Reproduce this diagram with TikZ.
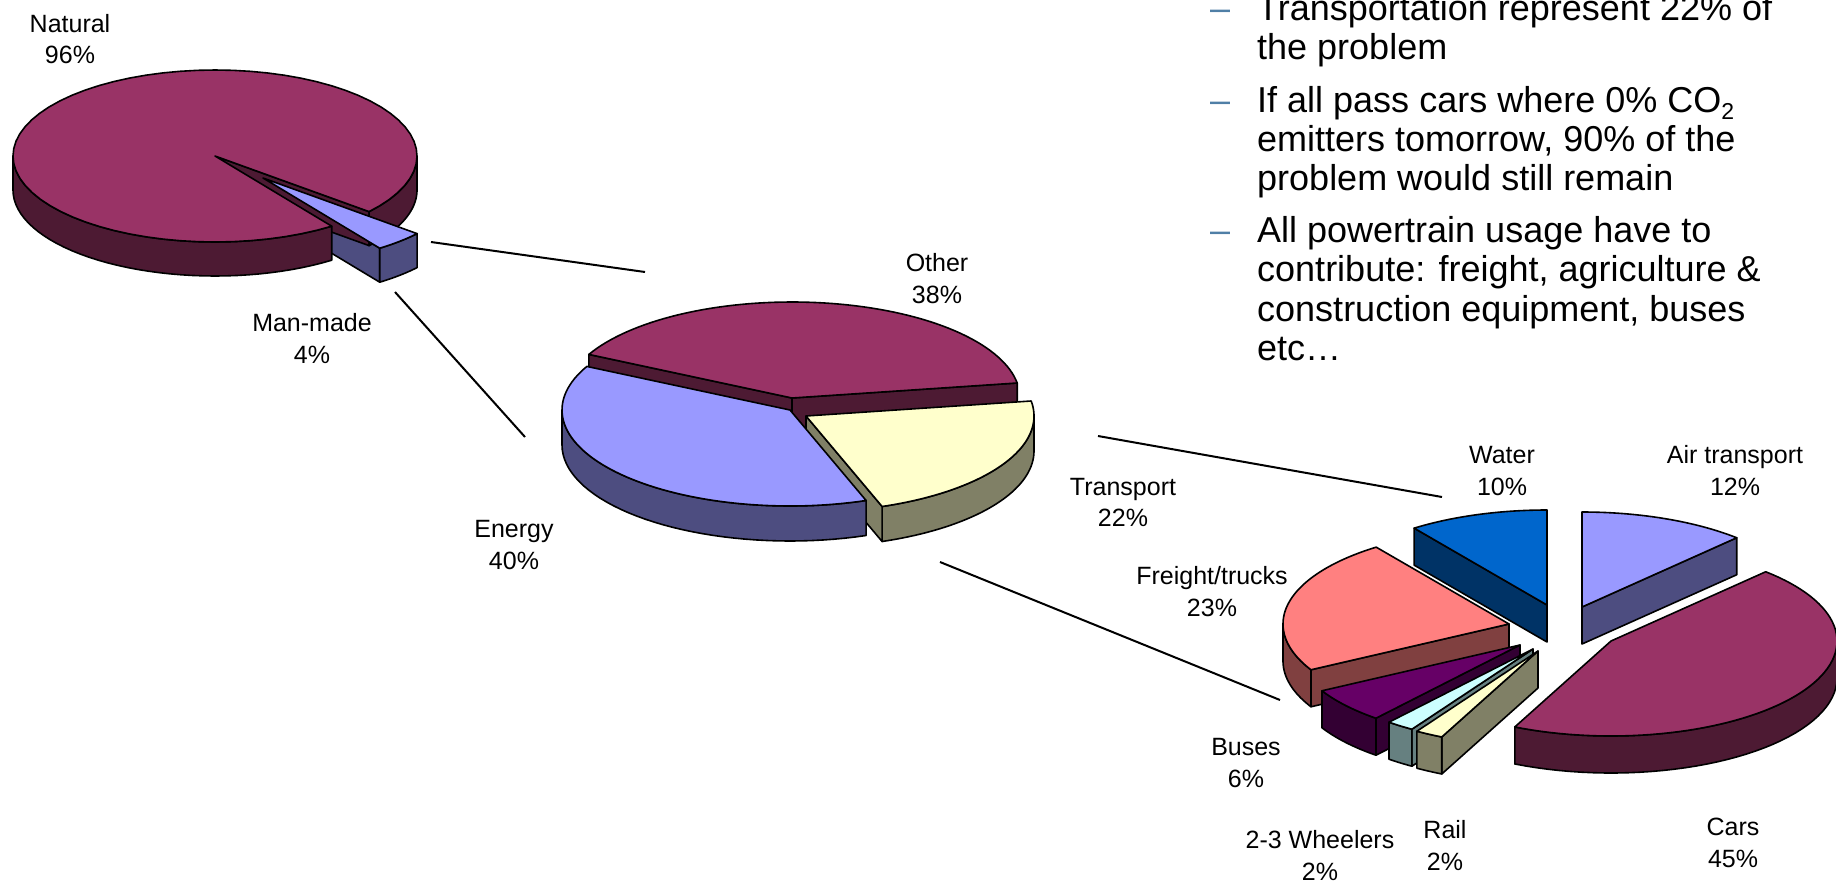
\documentclass[tikz,border=0pt]{standalone}
\usepackage{fontspec}
\setmainfont{Liberation Sans}
\definecolor{maroonT}{HTML}{993366}
\definecolor{maroonS}{HTML}{4D1A33}
\definecolor{lavT}{HTML}{9999FF}
\definecolor{lavS}{HTML}{4D4D80}
\definecolor{creamT}{HTML}{FFFFCC}
\definecolor{creamS}{HTML}{808066}
\definecolor{blueT}{HTML}{0066CC}
\definecolor{blueS}{HTML}{003366}
\definecolor{salmonT}{HTML}{FF8080}
\definecolor{salmonS}{HTML}{804040}
\definecolor{plumT}{HTML}{660066}
\definecolor{plumS}{HTML}{330033}
\definecolor{cyanT}{HTML}{CCFFFF}
\definecolor{cyanS}{HTML}{668080}
\definecolor{dashblue}{HTML}{4F7FA6}
% pie geometry: centre x, centre y, x radius, y radius, thickness
\newcommand\PieSet[5]{\def\pcx{#1}\def\pcy{#2}\def\prx{#3}\def\pry{#4}\def\ph{#5}}
% top face: from angle, to angle, offset x, offset y, colour
\newcommand\PTop[5]{%
  \filldraw[pieline,fill=#5] ({\pcx+(#3)},{\pcy+(#4)}) --
    plot[domain=#1:#2,samples=70] ({\pcx+(#3)+\prx*cos(\x)},{\pcy+(#4)+\pry*sin(\x)}) -- cycle;}
% outer rim side: visible from angle, to angle, offset x, offset y, colour
\newcommand\PRim[5]{%
  \filldraw[pieline,fill=#5]
    plot[domain=#1:#2,samples=40] ({\pcx+(#3)+\prx*cos(\x)},{\pcy+(#4)+\pry*sin(\x)}) --
    plot[domain=#2:#1,samples=40] ({\pcx+(#3)+\prx*cos(\x)},{\pcy+(#4)+\ph+\pry*sin(\x)}) -- cycle;}
% radial side: angle, offset x, offset y, colour
\newcommand\PRad[4]{%
  \filldraw[pieline,fill=#4] ({\pcx+(#2)},{\pcy+(#3)}) --
    ({\pcx+(#2)+\prx*cos(#1)},{\pcy+(#3)+\pry*sin(#1)}) --
    ({\pcx+(#2)+\prx*cos(#1)},{\pcy+(#3)+\ph+\pry*sin(#1)}) --
    ({\pcx+(#2)},{\pcy+(#3)+\ph}) -- cycle;}
\begin{document}
\begin{tikzpicture}[x=1pt,y=-1pt,
  pieline/.style={draw=black,line width=1.6pt,line join=round},
  leader/.style={draw=black,line width=2pt},
  lbl/.style={anchor=base,inner sep=0pt,font=\fontsize{25}{30}\selectfont},
  bul/.style={anchor=base west,inner sep=0pt,font=\fontsize{36}{40}\selectfont},
  dashmark/.style={anchor=base west,inner sep=0pt,font=\fontsize{36}{40}\selectfont,text=dashblue}]
\useasboundingbox (0,0) rectangle (1836,881);
\fill[white] (0,0) rectangle (1836,881);
\clip (0,0) rectangle (1836,881);

% ---------- pie 1 : Natural / Man-made ----------
\PieSet{215}{156}{202}{86}{34}
\PRad{54.7}{48}{22}{lavS}
\PRim{40.3}{54.7}{48}{22}{lavS}
\PRad{40.3}{0}{0}{maroonS}
\PRim{0}{40.3}{0}{0}{maroonS}
\PRim{54.7}{180}{0}{0}{maroonS}
\PTop{54.7}{400.3}{0}{0}{maroonT}
\PTop{40.3}{54.7}{48}{22}{lavT}

% ---------- pie 2 : Other / Transport / Energy ----------
\PieSet{792}{398}{228}{96}{35}
\PRad{207}{0}{0}{maroonS}
\PRad{351}{0}{0}{maroonS}
\PRim{0}{70.5}{14}{18}{creamS}
\PRad{70.5}{14}{18}{creamS}
\PRim{70.5}{180}{-2}{12}{lavS}
\PTop{207}{351}{0}{0}{maroonT}
\PTop{351}{430.5}{14}{18}{creamT}
\PTop{70.5}{207}{-2}{12}{lavT}

% ---------- pie 3 : transport split ----------
\PieSet{1565}{629}{226}{95}{37}
\PRad{234}{-18}{-24}{blueS}
\PRad{313.2}{17}{-22}{lavS}
\PRad{151.2}{-56}{-5}{salmonS}
\PRim{151.2}{180}{-56}{-5}{salmonS}
\PRim{0}{115.2}{46}{12}{maroonS}
\PRad{129.6}{-45}{16}{plumS}
\PRim{129.6}{151.2}{-45}{16}{plumS}
\PRad{122.4}{-32}{20}{cyanS}
\PRim{122.4}{129.6}{-32}{20}{cyanS}
\PRad{115.2}{-27}{22}{creamS}
\PRim{115.2}{122.4}{-27}{22}{creamS}
\PTop{234}{270}{-18}{-24}{blueT}
\PTop{270}{313.2}{17}{-22}{lavT}
\PTop{313.2}{475.2}{46}{12}{maroonT}
\PTop{151.2}{234}{-56}{-5}{salmonT}
\PTop{129.6}{151.2}{-45}{16}{plumT}
\PTop{122.4}{129.6}{-32}{20}{cyanT}
\PTop{115.2}{122.4}{-27}{22}{creamT}

% ---------- leader lines ----------
\coordinate (mm-a) at (431,242);
\coordinate (mm-b) at (645,272);
\coordinate (mm-c) at (395,292);
\coordinate (mm-d) at (525,437);
\coordinate (tr-a) at (1098,436);
\coordinate (tr-b) at (1442,497);
\coordinate (tr-c) at (940,562);
\coordinate (tr-d) at (1280,700);
\draw[leader] (mm-a) -- (mm-b);
\draw[leader] (mm-c) -- (mm-d);
\draw[leader] (tr-a) -- (tr-b);
\draw[leader] (tr-c) -- (tr-d);

% ---------- labels ----------
\node[lbl] (natural) at (70,32) {Natural};
\node[lbl] (natural-p) at (70,63) {96\%};
\node[lbl] (manmade) at (312,331) {Man-made};
\node[lbl] (manmade-p) at (312,363) {4\%};
\node[lbl] (other) at (937,271) {Other};
\node[lbl] (other-p) at (937,303) {38\%};
\node[lbl] (energy) at (514,537) {Energy};
\node[lbl] (energy-p) at (514,569) {40\%};
\node[lbl] (transport) at (1123,495) {Transport};
\node[lbl] (transport-p) at (1123,526) {22\%};
\node[lbl] (water) at (1502,463) {Water};
\node[lbl] (water-p) at (1502,495) {10\%};
\node[lbl] (air) at (1735,463) {Air transport};
\node[lbl] (air-p) at (1735,495) {12\%};
\node[lbl] (freight) at (1212,584) {Freight/trucks};
\node[lbl] (freight-p) at (1212,616) {23\%};
\node[lbl] (buses) at (1246,755) {Buses};
\node[lbl] (buses-p) at (1246,787) {6\%};
\node[lbl] (wheel) at (1320,848) {2-3 Wheelers};
\node[lbl] (wheel-p) at (1320,880) {2\%};
\node[lbl] (rail) at (1445,838) {Rail};
\node[lbl] (rail-p) at (1445,870) {2\%};
\node[lbl] (cars) at (1733,835) {Cars};
\node[lbl] (cars-p) at (1733,867) {45\%};

% ---------- bullet text ----------
\node[dashmark] (d1) at (1210,20) {–};
\node[dashmark] (d2) at (1210,112) {–};
\node[dashmark] (d3) at (1210,242) {–};
\node[bul] (b1) at (1257,20) {Transportation represent 22\% of};
\node[bul] (b2) at (1257,59.5) {the problem};
\node[bul] (b3) at (1257,112) {If all pass cars where 0\% CO\raisebox{-0.22em}{\fontsize{23}{23}\selectfont 2}};
\node[bul] (b4) at (1257,151) {emitters tomorrow, 90\% of the};
\node[bul] (b5) at (1257,190.5) {problem would still remain};
\node[bul] (b6) at (1257,242) {All powertrain usage have to};
\node[bul] (b7) at (1257,281.5) {contribute: freight, agriculture \&};
\node[bul] (b8) at (1257,321) {construction equipment, buses};
\node[bul] (b9) at (1257,360.5) {etc…};
\end{tikzpicture}
\end{document}
